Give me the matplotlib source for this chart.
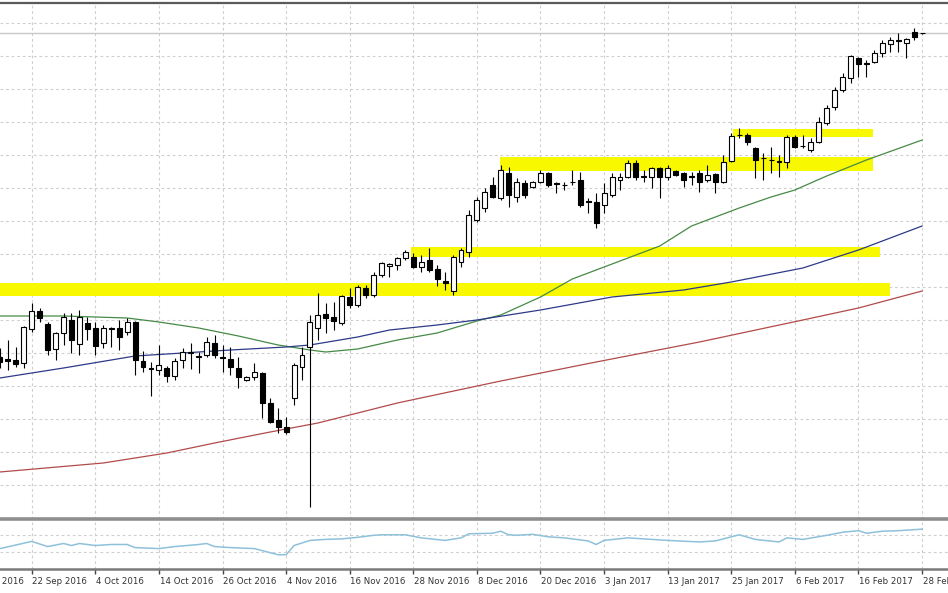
import matplotlib
matplotlib.use("Agg")
import matplotlib.pyplot as plt
import matplotlib.transforms as mtransforms
import numpy as np

# daily candles, bar index 0 = 16 Sep 2016 ... 116 = 28 Feb 2017
opens = [18444, 18428, 18420, 18396, 18668, 18812, 18708, 18508, 18636, 18740,
         18548, 18716, 18676, 18556, 18676, 18676, 18644, 18724, 18412, 18356,
         18340, 18356, 18292, 18420, 18476, 18444, 18460, 18556, 18444, 18428,
         18356, 18260, 18284, 18316, 18076, 17940, 17884, 18116, 18364, 18524,
         18676, 18788, 18764, 18716, 18924, 18860, 18996, 18940, 19100, 19172,
         19180, 19236, 19244, 19164, 19220, 19148, 19052, 18972, 19204, 19284,
         19540, 19636, 19820, 19716, 19916, 19724, 19836, 19804, 19844, 19916,
         19836, 19820, 19844, 19860, 19692, 19684, 19660, 19740, 19860, 19884,
         19996, 19892, 19884, 19956, 19884, 19932, 19916, 19892, 19916, 19860,
         19908, 19844, 20012, 20220, 20220, 20116, 20036, 20020, 20004, 20004,
         20204, 20132, 20100, 20164, 20316, 20444, 20580, 20676, 20836, 20796,
         20804, 20876, 20948, 20980, 20956, 21044, 21034]
highs = [18516, 18580, 18524, 18692, 18876, 18836, 18724, 18644, 18796, 18796,
         18820, 18764, 18724, 18700, 18684, 18740, 18756, 18732, 18492, 18404,
         18540, 18372, 18436, 18516, 18556, 18484, 18604, 18620, 18540, 18524,
         18444, 18292, 18396, 18324, 18116, 18036, 17964, 18396, 18524, 18780,
         18956, 18876, 18884, 18940, 18996, 19020, 19020, 19124, 19204, 19196,
         19244, 19300, 19276, 19260, 19316, 19180, 19124, 19260, 19316, 19620,
         19724, 19796, 19884, 19980, 19964, 19876, 19860, 19852, 19940, 19924,
         19844, 19844, 19940, 19924, 19716, 19756, 19836, 19916, 19916, 20020,
         20020, 19940, 19964, 19964, 19980, 19940, 19924, 19924, 19940, 19980,
         19916, 20060, 20236, 20276, 20236, 20124, 20076, 20124, 20060, 20220,
         20220, 20220, 20196, 20364, 20460, 20604, 20716, 20860, 20844, 20820,
         20900, 20980, 21004, 21036, 20996, 21076, 21038]
lows = [18356, 18340, 18364, 18356, 18644, 18724, 18460, 18420, 18540, 18476,
        18460, 18580, 18460, 18516, 18524, 18500, 18620, 18300, 18324, 18132,
        18300, 18244, 18260, 18356, 18348, 18316, 18444, 18436, 18324, 18300,
        18196, 18252, 18260, 17956, 17916, 17836, 17828, 18060, 18260, 17244,
        18580, 18636, 18660, 18700, 18836, 18844, 18916, 18924, 19084, 19084,
        19140, 19220, 19156, 19124, 19124, 19012, 18980, 18940, 19164, 19244,
        19524, 19604, 19716, 19700, 19644, 19684, 19716, 19796, 19836, 19804,
        19756, 19780, 19820, 19644, 19596, 19476, 19596, 19724, 19780, 19876,
        19860, 19844, 19796, 19716, 19860, 19892, 19804, 19820, 19764, 19844,
        19756, 19836, 20004, 20196, 20140, 19876, 19860, 19916, 19884, 19956,
        20116, 20116, 20084, 20156, 20300, 20420, 20564, 20636, 20684, 20684,
        20800, 20844, 20884, 20884, 20836, 20980, 21030]
closes = [18404, 18412, 18388, 18684, 18812, 18756, 18500, 18636, 18764, 18580,
          18764, 18668, 18532, 18676, 18668, 18604, 18724, 18420, 18364, 18348,
          18380, 18292, 18412, 18484, 18484, 18452, 18564, 18460, 18436, 18364,
          18284, 18284, 18324, 18076, 17924, 17884, 17844, 18380, 18460, 18724,
          18780, 18756, 18732, 18932, 18860, 19004, 18940, 19100, 19196, 19188,
          19236, 19284, 19164, 19204, 19140, 19068, 19036, 19244, 19300, 19580,
          19700, 19764, 19724, 19940, 19740, 19844, 19740, 19844, 19916, 19820,
          19828, 19816, 19840, 19660, 19684, 19516, 19756, 19884, 19884, 19996,
          19884, 19884, 19956, 19884, 19956, 19900, 19860, 19884, 19844, 19900,
          19844, 20004, 20212, 20216, 20164, 20020, 20032, 20016, 20012, 20204,
          20124, 20128, 20164, 20324, 20436, 20580, 20684, 20852, 20788, 20792,
          20876, 20956, 20980, 20976, 20988, 21004, 21034]

# moving averages (read at selected bars)
ma_green_bars = [0, 8, 16, 20, 25, 30, 35, 39, 41, 45, 50, 55, 60, 63, 68, 72,
                 78, 83, 87, 93, 97, 100, 104, 109, 116]
ma_green = [18772, 18772, 18756, 18724, 18676, 18612, 18540, 18500, 18484, 18508,
            18580, 18636, 18732, 18780, 18924, 19068, 19212, 19332, 19492, 19636,
            19724, 19780, 19892, 20020, 20180]
ma_blue_bars = [0, 8, 17, 21, 29, 36, 39, 45, 49, 55, 60, 68, 77, 86, 92, 101, 108, 116]
ma_blue = [18276, 18356, 18452, 18468, 18500, 18524, 18540, 18604, 18660, 18700,
           18740, 18820, 18924, 18980, 19044, 19156, 19300, 19492]
ma_red_bars = [0, 13, 21, 27, 34, 40, 50, 63, 75, 88, 101, 108, 116]
ma_red = [17524, 17596, 17676, 17756, 17844, 17916, 18076, 18252, 18404, 18564,
          18740, 18836, 18972]

# yellow zones
band_start = [-2, 51.7, 62.9, 92.2]
band_end = [112.0, 110.7, 109.8, 109.8]
band_low = [18932, 19240, 19932, 20204]
band_high = [19036, 19320, 20044, 20268]

# oscillator in the lower panel
osc_bars = [0, 4, 6, 8, 9, 10, 12, 14, 16, 17, 20, 22, 25, 26, 27, 29, 32, 34, 35,
            36, 37, 39, 41, 43, 45, 47, 48, 51, 53, 56, 58, 59, 62, 63, 64, 65, 67,
            69, 71, 74, 75, 76, 79, 82, 84, 88, 90, 93, 95, 98, 99, 101, 104, 106,
            108, 109, 111, 113, 116]
osc_vals = [38.4, 54.7, 43.0, 50.0, 45.4, 50.0, 45.4, 47.7, 47.7, 40.7, 38.4, 43.0,
            47.7, 50.0, 43.0, 40.7, 38.4, 29.1, 24.4, 24.4, 45.4, 57.0, 59.3, 60.5,
            64.0, 68.6, 69.8, 69.8, 62.8, 57.0, 62.8, 72.1, 73.3, 77.9, 69.8, 68.6,
            70.9, 65.1, 62.8, 55.8, 47.7, 57.0, 62.8, 59.3, 57.0, 53.5, 55.8, 69.8,
            59.3, 53.5, 62.8, 59.3, 68.6, 75.6, 79.1, 73.3, 77.9, 79.1, 82.6]

tick_bars = [-4, 4, 12, 20, 28, 36, 44, 52, 60, 68, 76, 84, 92, 100, 108, 116]
tick_labels = ["16 Sep 2016", "22 Sep 2016", "4 Oct 2016", "14 Oct 2016",
               "26 Oct 2016", "4 Nov 2016", "16 Nov 2016", "28 Nov 2016",
               "8 Dec 2016", "20 Dec 2016", "3 Jan 2017", "13 Jan 2017",
               "25 Jan 2017", "6 Feb 2017", "16 Feb 2017", "28 Feb 2017"]

grid_col = "#cfcfcf"
grid_ls = (0, (2.5, 2.5))
xlim = (0.01, 119.26)

fig = plt.figure(figsize=(9.48, 5.93), dpi=100)
ax = fig.add_axes([0, 0.12395, 1, 0.87099])
ax2 = fig.add_axes([0, 0.04047, 1, 0.0801])

# main panel
for s in ["left", "right"]:
    ax.spines[s].set_visible(False)
ax.spines["top"].set_color("#5a5a5a")
ax.spines["top"].set_linewidth(1.6)
ax.spines["bottom"].set_color("#8e8e8e")
ax.spines["bottom"].set_linewidth(2.6)
ax.set_xlim(*xlim)
ax.set_ylim(17144, 21276)
ax.set_xticks(tick_bars[1:])
ax.set_yticks(np.arange(21116, 17144, -264))
ax.tick_params(length=0, labelbottom=False, labelleft=False)
ax.grid(True, color=grid_col, linestyle=grid_ls, linewidth=0.8)
ax.set_axisbelow(True)

for s, e, lo, hi in zip(band_start, band_end, band_low, band_high):
    ax.fill_between([s, e], lo, hi, color="#f8f800", linewidth=0, zorder=1)

ax.axhline(closes[-1], color="#c8c8c8", linewidth=1.0, zorder=1.5)

ax.plot(ma_green_bars, ma_green, color="#468a46", linewidth=0.9, zorder=2)
ax.plot(ma_blue_bars, ma_blue, color="#2c3a88", linewidth=0.9, zorder=2)
ax.plot(ma_red_bars, ma_red, color="#b24a4a", linewidth=0.9, zorder=2)

idx = np.arange(len(opens))
o = np.array(opens)
c = np.array(closes)
ax.vlines(idx, lows, highs, color="black", linewidth=0.8, zorder=3)
body_lo = np.minimum(o, c)
body_h = np.maximum(np.abs(c - o), 6)
face = ["white" if cc >= oo else "black" for oo, cc in zip(o, c)]
ax.bar(idx, body_h, bottom=body_lo, width=0.62, color=face,
       edgecolor="black", linewidth=0.8, zorder=4)

# lower panel
for s in ["left", "right", "top"]:
    ax2.spines[s].set_visible(False)
ax2.spines["bottom"].set_color("#7a7a7a")
ax2.spines["bottom"].set_linewidth(1.8)
ax2.spines["bottom"].set_linestyle((0, (1.5, 1)))
ax2.set_xlim(*xlim)
ax2.set_ylim(-8, 100)
ax2.set_yticks([30, 70])
ax2.set_xticks(tick_bars[1:])
ax2.tick_params(axis="y", length=0, labelleft=False)
ax2.tick_params(axis="x", direction="out", length=3.5, width=1, color="#444444",
                labelbottom=False)
ax2.grid(True, color=grid_col, linestyle=grid_ls, linewidth=0.8)
ax2.set_axisbelow(True)
ax2.plot(osc_bars, osc_vals, color="#8ec1da", linewidth=1.1)

trans = mtransforms.blended_transform_factory(ax2.transData, ax2.transAxes)
for b, lab in zip(tick_bars, tick_labels):
    ax2.annotate(lab, xy=(b, 0), xycoords=trans, xytext=(0.5, -5.5),
                 textcoords="offset points", ha="left", va="top",
                 fontsize=6.2, color="#333333", annotation_clip=False)

fig.savefig("out.png", dpi=100)
